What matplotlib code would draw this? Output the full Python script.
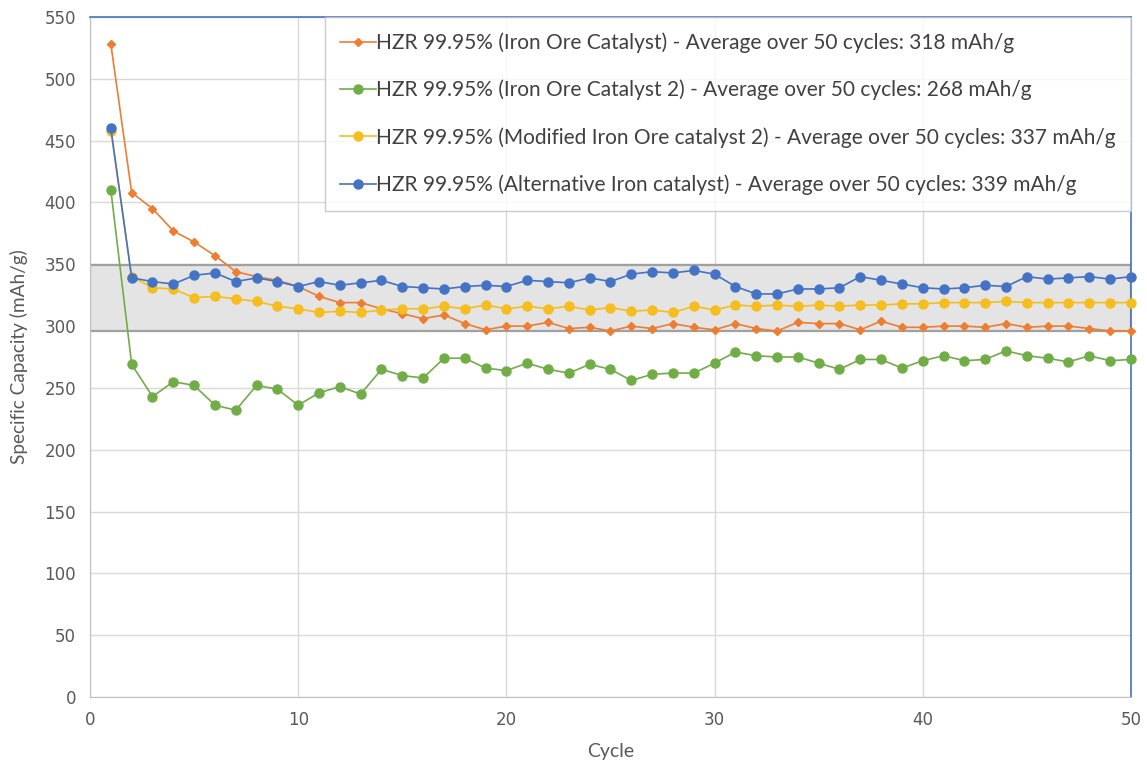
import matplotlib
matplotlib.use("Agg")
import matplotlib.pyplot as plt
from matplotlib.patches import Rectangle

cycles = list(range(1, 51))

iron_ore = [528, 408, 395, 377, 368, 357, 344, 340, 337, 332,
            324, 319, 319, 314, 310, 306, 309, 302, 297, 300,
            300, 303, 298, 299, 296, 300, 298, 302, 299, 297,
            302, 298, 296, 303, 302, 302, 297, 304, 299, 299,
            300, 300, 299, 302, 299, 300, 300, 298, 296, 296]

iron_ore_2 = [410, 269, 243, 255, 252, 236, 232, 252, 249, 236,
              246, 251, 245, 265, 260, 258, 274, 274, 266, 264,
              270, 265, 262, 269, 265, 256, 261, 262, 262, 270,
              279, 276, 275, 275, 270, 265, 273, 273, 266, 272,
              276, 272, 273, 280, 276, 274, 271, 276, 272, 273]

modified_2 = [458, 340, 331, 330, 323, 324, 322, 320, 316, 314,
              311, 312, 311, 313, 314, 314, 316, 314, 317, 314,
              316, 314, 316, 313, 315, 312, 313, 311, 316, 313,
              317, 316, 317, 316, 317, 316, 317, 317, 318, 318,
              319, 319, 319, 320, 319, 319, 319, 319, 319, 319]

alternative = [460, 339, 336, 334, 341, 343, 336, 339, 336, 332,
               336, 333, 335, 337, 332, 331, 330, 332, 333, 332,
               337, 336, 335, 339, 336, 342, 344, 343, 345, 342,
               332, 326, 326, 330, 330, 331, 340, 337, 334, 331,
               330, 331, 333, 332, 340, 338, 339, 340, 338, 340]

labels = [
    "HZR 99.95% (Iron Ore Catalyst) - Average over 50 cycles: 318 mAh/g",
    "HZR 99.95% (Iron Ore Catalyst 2) - Average over 50 cycles: 268 mAh/g",
    "HZR 99.95% (Modified Iron Ore catalyst 2) - Average over 50 cycles: 337 mAh/g",
    "HZR 99.95% (Alternative Iron catalyst) - Average over 50 cycles: 339 mAh/g",
]
band_low, band_high = 296, 349

colors = ["#ED7D31", "#70AD47", "#F5BE1E", "#4472C4"]
markers = ["D", "o", "o", "o"]
msizes = [4.5, 6.5, 6.5, 6.5]

fig = plt.figure(figsize=(11.47, 7.65), dpi=100)
ax = fig.add_axes([0.0785, 0.0889, 0.9075, 0.8889])

ax.add_patch(Rectangle((0, band_low), 50, band_high - band_low,
                       facecolor="#e4e4e4", edgecolor="#a0a0a0", linewidth=1.6, zorder=1))

series = [iron_ore, iron_ore_2, modified_2, alternative]
for ys, c, m, ms, lab in zip(series, colors, markers, msizes, labels):
    ax.plot(cycles, ys, color=c, marker=m, markersize=ms, linewidth=1.2,
            label=lab, zorder=3, clip_on=False)

ax.set_xlim(0, 50)
ax.set_ylim(0, 550)
ax.set_xticks(range(0, 51, 10))
ax.set_yticks(range(0, 551, 50))
ax.grid(True, color="#d9d9d9", linewidth=1.0, zorder=0)
ax.set_axisbelow(True)
ax.tick_params(length=0, labelsize=12, labelcolor="#595959", pad=10)

for s in ["left", "bottom"]:
    ax.spines[s].set_color("#bfbfbf")
for s in ["top", "right"]:
    ax.spines[s].set_color("#4472C4")
    ax.spines[s].set_linewidth(1.2)

ax.set_xlabel("Cycle", fontsize=14, color="#595959", family="Lato", labelpad=10)
ax.set_ylabel("Specific Capacity (mAh/g)", fontsize=13.7, color="#595959", family="Lato", labelpad=12)

leg = ax.legend(loc="upper right", bbox_to_anchor=(1.0, 1.0), borderaxespad=0,
                prop={"family": "Lato", "size": 15}, frameon=True, fancybox=False,
                edgecolor="#bfbfbf", labelspacing=1.28, handlelength=1.7,
                handletextpad=0.0, borderpad=0.75, labelcolor="#404040")
leg.get_frame().set_linewidth(1.0)
leg.set_zorder(5)

fig.savefig("out.png", dpi=100)
